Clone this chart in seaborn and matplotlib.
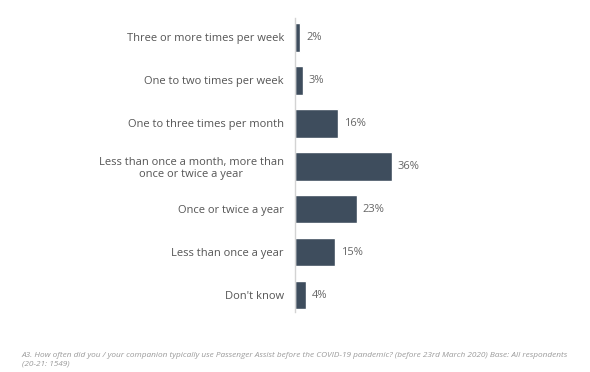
import matplotlib
matplotlib.use("Agg")
import matplotlib.pyplot as plt
import seaborn as sns
import pandas as pd

categories = [
    "Three or more times per week",
    "One to two times per week",
    "One to three times per month",
    "Less than once a month, more than\nonce or twice a year",
    "Once or twice a year",
    "Less than once a year",
    "Don't know",
]
values = [2, 3, 16, 36, 23, 15, 4]
footnote = ("A3. How often did you / your companion typically use Passenger Assist before the "
            "COVID-19 pandemic? (before 23rd March 2020) Base: All respondents\n(20-21: 1549)")

df = pd.DataFrame({"category": categories, "value": values})

sns.set_theme(style="white")
plt.rcParams["font.family"] = ["Open Sans", "DejaVu Sans"]

fig = plt.figure(figsize=(5.9, 3.72), dpi=100)
ax = fig.add_axes([0.5, 0.149, 0.48, 0.809])
sns.barplot(data=df, x="value", y="category", color="#3e4d5d", width=0.67,
            saturation=1, ax=ax)
ax.set_xlim(0, 105.1)
ax.set_xlabel("")
ax.set_ylabel("")
ax.set_xticks([])
for s in ["top", "right", "bottom"]:
    ax.spines[s].set_visible(False)
ax.spines["left"].set_color("#d3d3d3")
ax.spines["left"].set_linewidth(1.0)
ax.spines["left"].set_bounds(-0.45, 6.4)
ax.tick_params(axis="y", length=0, pad=8, labelsize=8, labelcolor="#555555")
for lbl in ax.get_yticklabels():
    lbl.set_horizontalalignment("right")
    lbl.set_multialignment("center")
for c in ax.containers:
    ax.bar_label(c, labels=[f"{v}%" for v in values], padding=4, fontsize=8, color="#666666")

fig.text(0.037, 0.012, footnote, fontsize=5.95, style="italic", color="#9a9a9a",
         ha="left", va="bottom", linespacing=1.35)
fig.savefig("out.png", dpi=100, facecolor="white")
